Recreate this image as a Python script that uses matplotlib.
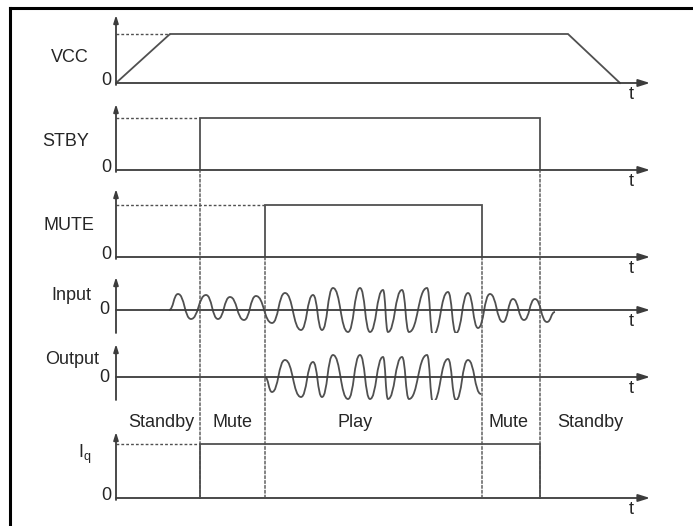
import matplotlib.pyplot as plt
from matplotlib.path import Path
from matplotlib.patches import PathPatch, ConnectionPatch
from matplotlib.lines import Line2D

plt.rcParams['font.family'] = ['Liberation Sans', 'DejaVu Sans']

# time axis (arbitrary units), arrow end of every t axis
T_END = 534

# supply and control signals: transition times and levels
VCC_T = [0, 54, 452, 504]
VCC_V = [0, 1, 1, 0]
STBY_T = [84, 84, 424, 424]
STBY_V = [0, 1, 1, 0]
MUTE_T = [149, 149, 366, 366]
MUTE_V = [0, 1, 1, 0]
IQ_T = [84, 84, 424, 424]
IQ_V = [0, 1, 1, 0]

# input / output audio waveforms (peaks and troughs)
INPUT_T = [53, 62, 75, 90, 102, 114, 128, 140, 156, 169, 185, 197, 206, 217, 232, 244, 254,
           267, 272, 286, 293, 311, 317, 332, 340, 352, 362, 374, 387, 397, 408, 419, 431, 439]
INPUT_V = [0, 16, -9, 15, -9, 13, -10, 14, -13, 17, -20, 15, -20, 22, -22, 22, -22,
           20, -22, 20, -22, 22, -25, 18, -23, 17, -18, 16, -12, 11, -10, 11, -12, -2]
OUTPUT_T = [149, 156, 169, 185, 197, 206, 217, 232, 244, 254, 267, 272, 286, 293, 311, 317,
            332, 340, 352, 365]
OUTPUT_V = [0, -15, 17, -20, 15, -20, 22, -22, 22, -22, 20, -22, 20, -22, 22, -25,
            18, -23, 17, -17]

# operating phases shown above the Iq trace
PHASES = ['Standby', 'Mute', 'Play', 'Mute', 'Standby']
PHASE_T = [45, 116, 239, 392, 474]

W, H = 693, 526
X0 = 116
LINE = '#3c3c3c'
SIG = '#505050'
TXT = '#262626'
FS = 13

fig = plt.figure(figsize=(W / 100, H / 100), dpi=100)
fig.patch.set_facecolor('white')

# outer frame: only its left and top edges are in view
fig.add_artist(Line2D([9.5 / W, 9.5 / W], [0, 1 - 8 / H], transform=fig.transFigure,
                      color='black', lw=2.2, solid_capstyle='projecting'))
fig.add_artist(Line2D([9.5 / W, 1], [1 - 8 / H, 1 - 8 / H], transform=fig.transFigure,
                      color='black', lw=2.2, solid_capstyle='projecting'))


def row_axes(top, zero, bottom, unit):
    ax = fig.add_axes([X0 / W, 1 - bottom / H, T_END / W, (bottom - top) / H])
    ax.set_xlim(0, T_END)
    ax.set_ylim(-(bottom - zero) / unit, (zero - top) / unit)
    ax.axis('off')
    y0, y1 = ax.get_ylim()
    arr = dict(color=LINE, lw=1.3, shrinkA=0, shrinkB=0)
    ax.annotate('', xy=(T_END, 0), xytext=(0, 0),
                arrowprops=dict(arrowstyle='-|>,head_length=0.7,head_width=0.22', **arr))
    ax.annotate('', xy=(0, y1), xytext=(0, y0),
                arrowprops=dict(arrowstyle='-|>,head_length=0.45,head_width=0.14', **arr))
    ax.text(515, -3 / unit, 't', ha='center', va='top', fontsize=FS, color=TXT)
    return ax


def digital(ax, ts, vs, label, lx, ly, dash_to, unit):
    ax.plot(ts, vs, color=SIG, lw=1.3, solid_joinstyle='miter')
    ax.plot([0, dash_to], [1, 1], color=SIG, lw=1.0, ls=(0, (2, 1.5)))
    ax.text(-5, -2 / unit, '0', ha='right', va='baseline', fontsize=FS, color=TXT)
    ax.text(lx, ly, label, ha='center', va='center', fontsize=FS, color=TXT)


def wave(ax, ts, vs):
    verts = [(ts[0], vs[0])]
    codes = [Path.MOVETO]
    for i in range(1, len(ts)):
        d = (ts[i] - ts[i - 1]) * 0.5
        verts += [(ts[i - 1] + d, vs[i - 1]), (ts[i] - d, vs[i]), (ts[i], vs[i])]
        codes += [Path.CURVE4] * 3
    ax.add_patch(PathPatch(Path(verts, codes), fill=False, ec=SIG, lw=1.3))


ax_vcc = row_axes(15, 83, 85, 49)
digital(ax_vcc, VCC_T, VCC_V, 'VCC', -46, 0.53, 54, 49)

ax_stby = row_axes(104, 170, 172, 52)
digital(ax_stby, STBY_T, STBY_V, 'STBY', -50, 0.55, 84, 52)

ax_mute = row_axes(189, 257, 259, 52)
digital(ax_mute, MUTE_T, MUTE_V, 'MUTE', -47, 0.6, 149, 52)

ax_in = row_axes(277, 310, 333, 1)
wave(ax_in, INPUT_T, INPUT_V)
ax_in.text(-7, 0, '0', ha='right', va='center', fontsize=FS, color=TXT)
ax_in.text(-45, 14, 'Input', ha='center', va='center', fontsize=FS, color=TXT)

ax_out = row_axes(344, 377, 400, 1)
wave(ax_out, OUTPUT_T, OUTPUT_V)
ax_out.text(-7, 0, '0', ha='right', va='center', fontsize=FS, color=TXT)
ax_out.text(-44, 18, 'Output', ha='center', va='center', fontsize=FS, color=TXT)

ax_iq = row_axes(432, 498, 500, 54)
digital(ax_iq, IQ_T, IQ_V, '$\\mathregular{I_q}$', -31, 0.8, 84, 54)
for name, t in zip(PHASES, PHASE_T):
    ax_iq.text(t, 1.4, name, ha='center', va='center', fontsize=FS, color=TXT)

# dotted guides linking the transitions down to the Iq trace
for t, ax_top in [(84, ax_stby), (149, ax_mute), (366, ax_mute), (424, ax_stby)]:
    con = ConnectionPatch(xyA=(t, 0), coordsA='data', axesA=ax_iq,
                          xyB=(t, 0), coordsB='data', axesB=ax_top,
                          color=SIG, lw=1.0, ls=(0, (2, 1.5)))
    fig.add_artist(con)

fig.savefig('out.png', dpi=100, facecolor='white')
